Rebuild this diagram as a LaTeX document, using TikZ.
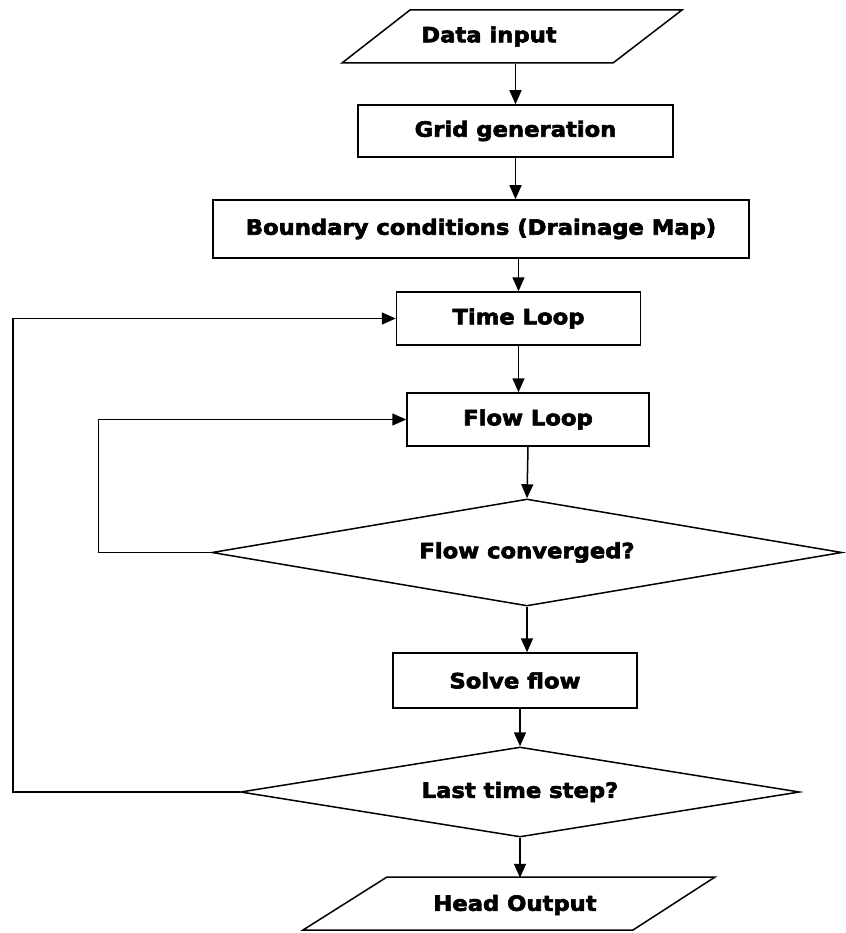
\documentclass[tikz,border=0pt]{standalone}
\usepackage{fontspec}
\setmainfont{DejaVu Sans}[BoldFeatures={FakeBold=3, FakeStretch=1.08}]
\usetikzlibrary{shapes.geometric,arrows.meta}

\begin{document}
\begin{tikzpicture}[x=1pt, y=-1pt, line width=1.5pt,
    every node/.style={font=\bfseries\fontsize{21}{24}\selectfont},
    process/.style={draw, rectangle, inner sep=0pt},
    decision/.style={draw, diamond, inner sep=0pt, aspect=6},
    io/.style={inner sep=0pt, minimum height=53pt},
    arr/.style={-{Triangle[length=14pt, width=12pt]}}]
      \useasboundingbox (0,0) rectangle (845,933);

      \draw (342,63) -- (410,10) -- (682,10) -- (613,63) -- cycle;
      \node[io] (din) at (489,36.5) {Data input};
      \node[process, minimum width=315pt, minimum height=52pt] (grid) at (515.5,131) {Grid generation};
      \node[process, minimum width=536pt, minimum height=58pt] (bnd) at (481,229) {Boundary conditions (Drainage Map)};
      \node[process, minimum width=244pt, minimum height=53pt] (time) at (518.5,318.5) {Time Loop};
      \node[process, minimum width=242pt, minimum height=53pt] (flow) at (528,419.5) {Flow Loop};
      \node[decision, minimum width=630pt, minimum height=107pt] (conv) at (527,552.5) {Flow converged?};
      \node[process, minimum width=244pt, minimum height=55pt] (solve) at (515,680.5) {Solve flow};
      \node[decision, minimum width=559pt, minimum height=90pt] (last) at (520,792) {Last time step?};
      \draw (303,930) -- (387,877) -- (715,877) -- (633,930) -- cycle;
      \node[io] (hout) at (515,905) {Head Output};

      \draw[arr] (grid.north |- din.south) -- (grid.north);
      \draw[arr] (grid.south) -- (grid.south |- bnd.north);
      \draw[arr] (time.north |- bnd.south) -- (time.north);
      \draw[arr] (time.south) -- (time.south |- flow.north);
      \draw[arr] (flow.south) -- (conv.north);
      \draw[arr] (conv.south) -- (conv.south |- solve.north);
      \draw[arr] (last.north |- solve.south) -- (last.north);
      \draw[arr] (last.south) -- (last.south |- hout.north);
      \draw[arr] (conv.west) -- ++(-113,0) |- (flow.west);
      \draw[arr] (last.west) -- ++(-227,0) |- (time.west);
   \end{tikzpicture}
\end{document}
